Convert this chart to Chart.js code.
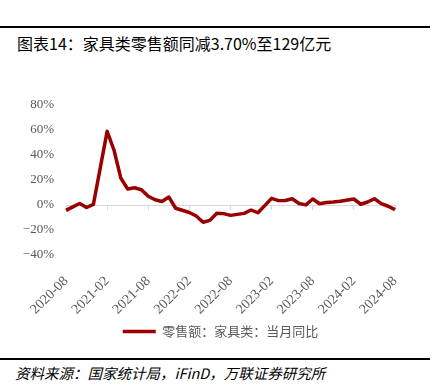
<!DOCTYPE html>
<html>
<head>
<meta charset="utf-8">
<script src="https://cdn.jsdelivr.net/npm/chart.js@4"></script>
<style>
  body { margin: 0; width: 441px; height: 392px; background: #fff; position: relative; overflow: hidden; }
  .rule { position: absolute; left: 0; width: 430px; height: 2px; background: #000; }
  #title { position: absolute; left: 17px; top: 33px; font: 16px "Noto Sans CJK SC"; line-height: 20px; color: #000; white-space: nowrap; }
  #source { position: absolute; left: 15px; top: 364px; font: italic 14.5px "Noto Sans CJK SC"; line-height: 18px; color: #000; white-space: nowrap; }
  #chart { position: absolute; left: 0; top: 60px; }
</style>
</head>
<body>
<div class="rule" style="top:26px"></div>
<div id="title">图表14：家具类零售额同减3.70%至129亿元</div>
<canvas id="chart" width="441" height="290"></canvas>
<div class="rule" style="top:358px"></div>
<div id="source">资料来源：国家统计局，iFinD，万联证券研究所</div>
<script>
// monthly, Jan is reported together with Feb, so Jan stays empty
const months = [
  "2020-08", "2020-09", "2020-10", "2020-11", "2020-12",
  "2021-01", "2021-02", "2021-03", "2021-04", "2021-05", "2021-06",
  "2021-07", "2021-08", "2021-09", "2021-10", "2021-11", "2021-12",
  "2022-01", "2022-02", "2022-03", "2022-04", "2022-05", "2022-06",
  "2022-07", "2022-08", "2022-09", "2022-10", "2022-11", "2022-12",
  "2023-01", "2023-02", "2023-03", "2023-04", "2023-05", "2023-06",
  "2023-07", "2023-08", "2023-09", "2023-10", "2023-11", "2023-12",
  "2024-01", "2024-02", "2024-03", "2024-04", "2024-05", "2024-06",
  "2024-07", "2024-08"
];
const furnitureYoY = [
  -4.3, -1.5, 1.2, -2.0, 0.5,
  null, 58.9, 44.0, 21.5, 12.8, 13.8,
  12.2, 7.0, 4.2, 2.8, 6.4, -2.6,
  null, -6.0, -8.8, -13.8, -12.3, -6.6,
  -6.9, -8.3, -7.5, -6.7, -4.0, -6.2,
  null, 5.3, 3.5, 3.6, 5.0, 1.2,
  0.1, 4.8, 1.0, 2.0, 2.4, 3.0,
  null, 4.8, 0.6, 2.4, 5.0, 1.1,
  -1.0, -3.7
];
const seriesName = "零售额：家具类：当月同比";
const yMin = -40, yMax = 80, yStep = 20;
const labelEvery = 6;

const red = "#990000";
const gray = "#595959";
const axisGray = "#d9d9d9";
const serif = "'Liberation Serif', 'DejaVu Serif', serif";

new Chart(document.getElementById("chart"), {
  type: "line",
  data: {
    labels: months,
    datasets: [{
      label: seriesName,
      data: furnitureYoY,
      borderColor: red,
      backgroundColor: red,
      borderWidth: 3.5,
      borderJoinStyle: "round",
      pointRadius: 0,
      tension: 0,
      spanGaps: true
    }]
  },
  options: {
    responsive: false,
    animation: false,
    devicePixelRatio: 1,
    layout: { padding: { top: 45, right: 0, bottom: 2, left: 0 } },
    plugins: {
      legend: {
        position: "bottom",
        labels: {
          usePointStyle: true,
          pointStyle: "line",
          pointStyleWidth: 33,
          boxHeight: 3,
          padding: 10,
          color: gray,
          font: { family: "'Noto Sans CJK SC'", size: 13 }
        }
      },
      tooltip: { enabled: false }
    },
    scales: {
      x: {
        type: "category",
        position: "bottom",
        grid: { display: false },
        border: { display: false },
        ticks: {
          autoSkip: false,
          minRotation: 45,
          maxRotation: 45,
          padding: 10,
          color: gray,
          font: { family: serif, size: 14 },
          callback: (v, i) => (i % labelEvery === 0 ? months[i] : "")
        },
        afterFit: (s) => { s.height = 60; }
      },
      // zero line with small tick marks, like the original axis crossing at 0
      x0: {
        type: "category",
        position: { y: 0 },
        ticks: { display: false, autoSkip: false },
        grid: {
          drawOnChartArea: false,
          drawTicks: true,
          tickLength: 4,
          color: (c) => (c.index % labelEvery === 0 ? axisGray : "rgba(0,0,0,0)"),
          tickColor: (c) => (c.index % labelEvery === 0 ? axisGray : "rgba(0,0,0,0)")
        },
        border: { color: axisGray, width: 1 }
      },
      y: {
        min: yMin,
        max: yMax,
        grid: { display: false, drawTicks: false },
        border: { display: false },
        ticks: {
          stepSize: yStep,
          padding: 12,
          color: gray,
          font: { family: serif, size: 13 },
          callback: (v) => (v < 0 ? "\u2212" + Math.abs(v) : v) + "%"
        },
        afterFit: (s) => { s.width = 66; }
      },
      // empty right margin so the legend stays centred on the whole figure
      yPad: {
        position: "right",
        grid: { display: false },
        border: { display: false },
        ticks: { display: false },
        afterFit: (s) => { s.width = 46; }
      }
    }
  }
});
</script>
</body>
</html>
